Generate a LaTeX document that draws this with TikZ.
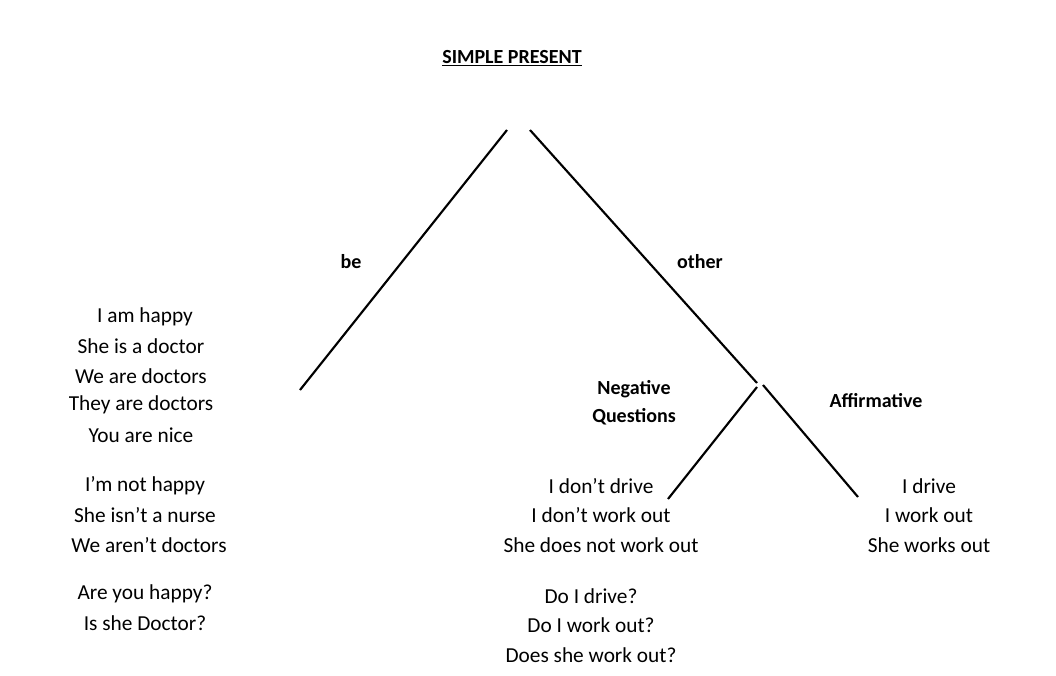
\documentclass[tikz,border=0pt]{standalone}
\usepackage{fontspec}
\setmainfont{Carlito}
\begin{document}
\begin{tikzpicture}[x=0.75pt,y=-0.75pt,
  t/.style={inner sep=0pt,font=\fontsize{16}{19}\selectfont},
  b/.style={inner sep=0pt,font=\fontsize{15}{18}\selectfont\bfseries},
  br/.style={line width=1.6pt}]
\useasboundingbox[fill=white] (0,0) rectangle (1056,675);
\node[b] (title) at (512,58) {\underline{SIMPLE PRESENT}};
\coordinate (a1) at (507,130); \coordinate (a2) at (300,390);
\coordinate (b1) at (530,130); \coordinate (b2) at (757,383);
\coordinate (c1) at (757,387); \coordinate (c2) at (668,499);
\coordinate (d1) at (763,385); \coordinate (d2) at (858,497);
\draw[br] (a1) -- (a2);
\draw[br] (b1) -- (b2);
\draw[br] (c1) -- (c2);
\draw[br] (d1) -- (d2);
\node[b] (be) at (351,262) {be};
\node[b] (other) at (700,262) {other};
\node[b,align=center,font=\fontsize{15}{21}\selectfont\bfseries] (neg) at (634,403) {Negative\\Questions};
\node[b] (aff) at (876,401) {Affirmative};
\node[t] (l1) at (145,317) {I am happy};
\node[t] (l2) at (141,346) {She is a doctor};
\node[t] (l3) at (141,376) {We are doctors};
\node[t] (l4) at (141,405) {They are doctors};
\node[t] (l5) at (141,435) {You are nice};
\node[t] (l6) at (145,486) {I’m not happy};
\node[t] (l7) at (145,515) {She isn’t a nurse};
\node[t] (l8) at (149,545) {We aren’t doctors};
\node[t] (l9) at (145,594) {Are you happy?};
\node[t] (l10) at (145,623) {Is she Doctor?};
\node[t] (m1) at (601,486) {I don’t drive};
\node[t] (m2) at (601,515) {I don’t work out};
\node[t] (m3) at (601,545) {She does not work out};
\node[t] (m4) at (591,596) {Do I drive?};
\node[t] (m5) at (591,625) {Do I work out?};
\node[t] (m6) at (591,655) {Does she work out?};
\node[t] (r1) at (929,486) {I drive};
\node[t] (r2) at (929,515) {I work out};
\node[t] (r3) at (929,545) {She works out};
\end{tikzpicture}
\end{document}
